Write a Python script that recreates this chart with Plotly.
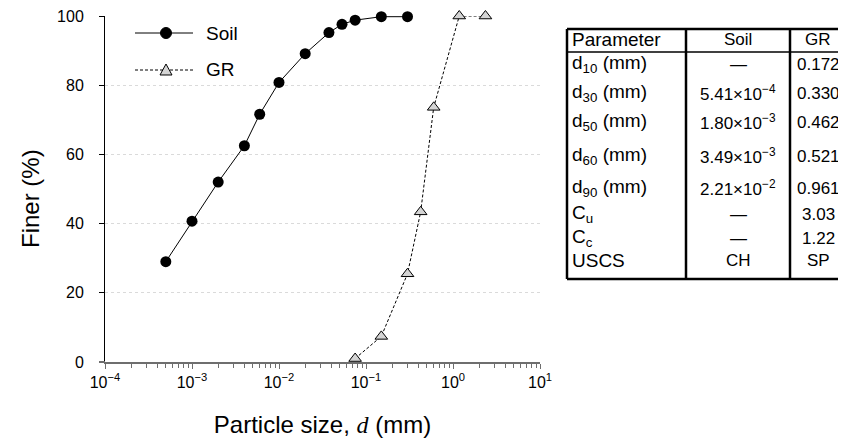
import plotly.graph_objects as go

# ---- data ----
soil_d = [0.0005, 0.001, 0.002, 0.004, 0.006, 0.01, 0.02, 0.0375, 0.053, 0.075, 0.15, 0.30]
soil_finer = [29.0, 40.7, 52.0, 62.5, 71.6, 80.8, 89.1, 95.2, 97.6, 98.8, 99.8, 99.8]
gr_d = [0.075, 0.15, 0.30, 0.425, 0.60, 1.18, 2.36]
gr_finer = [1.0, 7.4, 25.5, 43.4, 73.6, 100.0, 100.0]

x_tickvals = [1e-4, 1e-3, 1e-2, 1e-1, 1e0, 1e1]
x_ticktext = ["10<sup>−4</sup>", "10<sup>−3</sup>", "10<sup>−2</sup>", "10<sup>−1</sup>", "10<sup>0</sup>", "10<sup>1</sup>"]
y_tickvals = [0, 20, 40, 60, 80, 100]

series_names = ["Soil", "GR"]
x_title = "Particle size, <span style=\"font-family:Liberation Serif\"><i>d</i></span> (mm)"
y_title = "Finer (%)"

tbl_params = ["Parameter", "d<sub>10</sub> (mm)", "d<sub>30</sub> (mm)", "d<sub>50</sub> (mm)", "d<sub>60</sub> (mm)",
              "d<sub>90</sub> (mm)", "C<sub>u</sub>", "C<sub>c</sub>", "USCS"]
tbl_soil = ["Soil", "—", "5.41×10<sup>−4</sup>", "1.80×10<sup>−3</sup>", "3.49×10<sup>−3</sup>",
            "2.21×10<sup>−2</sup>", "—", "—", "CH"]
tbl_gr = ["GR", "0.172", "0.330", "0.462", "0.521", "0.961", "3.03", "1.22", "SP"]

FONT = "Liberation Sans, Arial, sans-serif"
OFF = 8                      # page body margin in the browser
W, H = 846 - OFF, 446 - OFF
# plot area in screen pixels
SL, SR, ST, SB = 105, 540, 16, 362
L, R, T, B = SL - OFF, SR - OFF, ST - OFF, SB - OFF

minor_vals = [m * 10.0 ** e for e in range(-4, 1) for m in range(2, 10)]


def px(x):
    """screen x -> paper x"""
    return (x - SL) / (SR - SL)


def py(y):
    """screen y -> paper y"""
    return (SB - y) / (SB - ST)


fig = go.Figure()
fig.add_trace(go.Scatter(
    x=soil_d, y=soil_finer, name=series_names[0], mode="lines+markers",
    line=dict(color="black", width=1),
    marker=dict(symbol="circle", size=11, color="black"),
    cliponaxis=False, showlegend=False,
))
fig.add_trace(go.Scatter(
    x=gr_d, y=gr_finer, name=series_names[1], mode="lines+markers",
    line=dict(color="black", width=1, dash="3px,2px"),
    marker=dict(symbol="triangle-up", size=11, color="#d4d4d4", line=dict(color="black", width=1)),
    cliponaxis=False, showlegend=False,
))

fig.update_layout(
    width=W, height=H,
    margin=dict(l=L, r=W - R, t=T, b=H - B, autoexpand=False),
    plot_bgcolor="white", paper_bgcolor="white",
    font=dict(family=FONT, color="black", size=16),
    xaxis=dict(
        type="log", range=[-4, 1], automargin=False,
        tickvals=x_tickvals, ticktext=x_ticktext, ticklabeloverflow="allow",
        ticks="outside", ticklen=5, tickcolor="#6e6e6e", tickwidth=1,
        showline=True, linecolor="#6e6e6e", linewidth=2,
        showgrid=False, zeroline=False,
        tickfont=dict(size=16),
        minor=dict(tickvals=minor_vals, ticks="outside", ticklen=4, tickcolor="#6e6e6e", showgrid=False),
        title=dict(text=x_title, font=dict(size=24), standoff=26),
    ),
    yaxis=dict(
        range=[0, 100], tickvals=y_tickvals, automargin=False, ticklabeloverflow="allow",
        ticks="outside", ticklen=5, tickcolor="black", ticklabelstandoff=12,
        showline=True, linecolor="black", linewidth=1,
        showgrid=True, gridcolor="#dadada", griddash="dot", gridwidth=1,
        zeroline=False, tickfont=dict(size=16),
    ),
)

shapes = []
annots = []
line_k = dict(xref="paper", yref="paper", layer="above")

# y axis title (placed as annotation so its vertical position can follow the reference)
annots.append(dict(x=px(30), y=py(199), xref="paper", yref="paper", text=y_title, textangle=-90,
                   showarrow=False, xanchor="center", yanchor="middle", font=dict(size=24)))

# short extension of the x axis line to the left of the y axis
shapes.append(dict(type="line", x0=px(99), x1=px(SL), y0=0, y1=0, line=dict(color="#6e6e6e", width=2), **line_k))

# ---- legend (drawn manually to match the long key lines) ----
leg_y = [33, 70]
for i, ly in enumerate(leg_y):
    dash = "solid" if i == 0 else "3px,2px"
    shapes.append(dict(type="line", x0=px(135), x1=px(193), y0=py(ly), y1=py(ly),
                       line=dict(color="black", width=1, dash=dash), **line_k))
    annots.append(dict(x=px(204), y=py(ly), xref="paper", yref="paper", text=series_names[i],
                       showarrow=False, xanchor="left", yanchor="middle", font=dict(size=19)))
# legend symbols
shapes.append(dict(type="circle", x0=px(160.5), x1=px(171.5), y0=py(27.5), y1=py(38.5),
                   fillcolor="black", line=dict(color="black", width=1), **line_k))
tri = "M {:.5f},{:.5f} L {:.5f},{:.5f} L {:.5f},{:.5f} Z".format(
    px(160), py(75), px(172), py(75), px(166), py(64))
shapes.append(dict(type="path", path=tri, fillcolor="#d4d4d4", line=dict(color="black", width=1), **line_k))

# ---- table ----
tx0, tx1, tx2, tx3 = 567, 686, 790, 852
gr_cx = 818
row_y = [40, 64, 93, 122, 156, 188, 214, 238, 260]
top_y, head_y, bot_y = 29, 52, 279

for yy, wd in ((top_y, 2.5), (bot_y, 2.5), (head_y, 1.5)):
    shapes.append(dict(type="line", x0=px(tx0), x1=px(tx3), y0=py(yy), y1=py(yy),
                       line=dict(color="black", width=wd), **line_k))
for xx in (tx0, tx1, tx2):
    shapes.append(dict(type="line", x0=px(xx), x1=px(xx), y0=py(top_y), y1=py(bot_y),
                       line=dict(color="black", width=2.5), **line_k))

TF = 17
for i, ry in enumerate(row_y):
    annots.append(dict(x=px(tx0 + 3), y=py(ry), xref="paper", yref="paper", text=tbl_params[i],
                       showarrow=False, xanchor="left", yanchor="middle", font=dict(size=19)))
    annots.append(dict(x=px((tx1 + tx2) / 2), y=py(ry), xref="paper", yref="paper", text=tbl_soil[i],
                       showarrow=False, xanchor="center", yanchor="middle", font=dict(size=TF)))
    annots.append(dict(x=px(gr_cx), y=py(ry), xref="paper", yref="paper", text=tbl_gr[i],
                       showarrow=False, xanchor="center", yanchor="middle", font=dict(size=TF)))

fig.update_layout(shapes=shapes, annotations=annots)

fig.write_html("out.html")
